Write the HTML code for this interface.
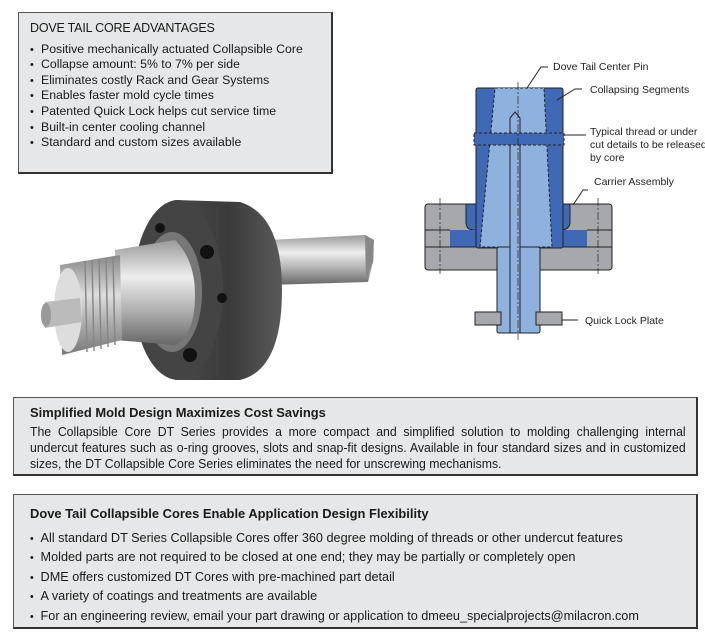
<!DOCTYPE html>
<html><head><meta charset="utf-8"><style>
body{margin:0;width:705px;height:633px;background:#fff;position:relative;overflow:hidden;font-family:"Liberation Sans",sans-serif;color:#1a1a1a}
.box{position:absolute;background:#e6e7e8;border:1px solid #555;border-right:2px solid #333;border-bottom:2px solid #333;box-sizing:border-box}
#b1{left:18px;top:12px;width:315px;height:162px;padding:8px 0 0 11px;font-size:12.3px;line-height:14.6px}
#b1 .h{font-size:12.5px;margin-bottom:6px;letter-spacing:-0.2px}
ul{margin:0;padding:0;list-style:none}
#b1 li:before{content:"•";display:inline-block;width:11px;font-size:11px}
#b3 li:before{content:"•";display:inline-block;width:11px;font-size:11px;line-height:10px}
#b2{left:13px;top:397px;width:685px;height:79px;padding:7px 0 0 16px;font-size:13.2px;line-height:16px}
#b3{left:13px;top:494px;width:685px;height:135px;padding:11px 0 0 16px;font-size:13.2px}
.sc{transform:scaleX(0.98);transform-origin:left;white-space:nowrap}
.body{width:705px;transform:scaleX(0.93);transform-origin:left;white-space:nowrap}
.j{text-align:justify;text-align-last:justify}
.l3{transform:scaleX(0.96);transform-origin:left;white-space:nowrap;width:700px}
#b3 li{line-height:19.4px;height:19.4px;overflow:visible}
.t{font-weight:bold;font-size:13.2px;line-height:16px}
svg text{font-family:"Liberation Sans",sans-serif;font-size:10.5px;fill:#222}
</style></head><body>
<div class="box" id="b1"><div class="h">DOVE TAIL CORE ADVANTAGES</div><ul>
<li>Positive mechanically actuated Collapsible Core</li>
<li>Collapse amount: 5% to 7% per side</li>
<li>Eliminates costly Rack and Gear Systems</li>
<li>Enables faster mold cycle times</li>
<li>Patented Quick Lock helps cut service time</li>
<li>Built-in center cooling channel</li>
<li>Standard and custom sizes available</li></ul></div>

<svg style="position:absolute;left:0;top:0" width="705" height="390">
<defs>
<linearGradient id="sh" x1="0" y1="0" x2="0" y2="1"><stop offset="0" stop-color="#999"/><stop offset=".35" stop-color="#eee"/><stop offset=".7" stop-color="#aaa"/><stop offset="1" stop-color="#666"/></linearGradient>
<linearGradient id="dk" x1="0" y1="0" x2="1" y2="0"><stop offset="0" stop-color="#4a4a4a"/><stop offset=".5" stop-color="#3a3a3a"/><stop offset="1" stop-color="#5a5a5a"/></linearGradient>
<linearGradient id="th" x1="0" y1="0" x2="0" y2="1"><stop offset="0" stop-color="#888"/><stop offset=".4" stop-color="#ddd"/><stop offset="1" stop-color="#777"/></linearGradient>
</defs>
<path d="M268 240 L365 235 Q375 240 374 258 L368 282 L268 285 Z" fill="url(#sh)"/>
<path d="M365 235 L374 240 L373 262 L366 280 Z" fill="#888"/>
<path d="M175 200 L240 202 Q282 215 282 290 Q282 370 240 380 L175 380 Z" fill="url(#dk)"/>
<ellipse cx="178" cy="290" rx="45" ry="90" fill="#444"/>
<ellipse cx="172" cy="292" rx="30" ry="60" fill="#777"/>
<path d="M115 250 L175 240 Q195 260 195 295 Q195 335 175 345 L115 340 Z" fill="url(#sh)"/>
<path d="M60 265 L120 255 L122 340 L62 355 Z" fill="url(#th)"/>
<g stroke="#888" stroke-width="1.5">
<line x1="85" y1="261" x2="87" y2="352"/><line x1="92" y1="260" x2="94" y2="351"/><line x1="99" y1="259" x2="101" y2="349"/><line x1="106" y1="258" x2="108" y2="347"/><line x1="113" y1="257" x2="115" y2="345"/></g>
<ellipse cx="68" cy="310" rx="14" ry="42" fill="#ddd"/>
<path d="M45 302 L80 298 L82 322 L45 328 Z" fill="#bbb"/>
<ellipse cx="46" cy="315" rx="5" ry="12" fill="#999"/>
<circle cx="160" cy="228" r="5" fill="#111"/><circle cx="207" cy="252" r="7" fill="#111"/><circle cx="222" cy="298" r="5" fill="#111"/><circle cx="190" cy="355" r="7" fill="#111"/>
<g stroke="#222" stroke-width="1">
<rect x="425" y="204" width="187" height="66" rx="3" fill="#a6a8ab"/>
<path d="M466 204 V222 Q466 230 474 230 H560 Q570 230 570 222 V204 Z" fill="#3f68b5"/>
<rect x="450" y="230" width="137" height="17" fill="#3f68b5" stroke="none"/>
<line x1="425" y1="247" x2="612" y2="247"/><line x1="425" y1="230" x2="450" y2="230"/><line x1="587" y1="230" x2="612" y2="230"/>
<rect x="476" y="88" width="87" height="160" rx="2" fill="#3f68b5"/>
<path d="M495 88 L544 88 L552 247 L480 247 Z" fill="#8fb1de" stroke-dasharray="3 2"/>
<rect x="497" y="247" width="43" height="86" rx="2" fill="#8fb1de"/>
<path d="M510 118 L515 112 L520 118 L520 333 L510 333 Z" fill="#8fb1de"/>
<rect x="474" y="133" width="90" height="12" fill="#3f68b5" stroke-dasharray="3 2"/>
<rect x="475" y="312" width="26" height="13" fill="#a6a8ab"/><rect x="536" y="312" width="26" height="13" fill="#a6a8ab"/>
<line x1="518" y1="82" x2="518" y2="340" stroke-dasharray="8 2 2 2" stroke-width=".7"/>
<line x1="440" y1="198" x2="440" y2="274" stroke-dasharray="8 2 2 2" stroke-width=".7"/>
<line x1="598" y1="198" x2="598" y2="274" stroke-dasharray="8 2 2 2" stroke-width=".7"/>
<path d="M527 88 L541 67 H548" fill="none"/><path d="M557 100 L575 89 H582" fill="none"/><path d="M564 135 H586" fill="none"/><path d="M573 205 L583 190 H588" fill="none"/><path d="M562 320 H578" fill="none"/>
</g>
<text x="553" y="70">Dove Tail Center Pin</text>
<text x="590" y="93">Collapsing Segments</text>
<text x="590" y="135">Typical thread or under</text>
<text x="590" y="148">cut details to be released</text>
<text x="590" y="161">by core</text>
<text x="594" y="185">Carrier Assembly</text>
<text x="585" y="324">Quick Lock Plate</text>
</svg>

<div class="box" id="b2"><div class="sc t">Simplified Mold Design Maximizes Cost Savings</div>
<div class="body" style="margin-top:3px"><div class="j">The Collapsible Core DT Series provides a more compact and simplified solution to molding challenging internal</div>
<div class="j">undercut features such as o-ring grooves, slots and snap-fit designs. Available in four standard sizes and in customized</div>
<div>sizes, the DT Collapsible Core Series eliminates the need for unscrewing mechanisms.</div></div></div>

<div class="box" id="b3"><div class="t sc" style="margin-bottom:6px">Dove Tail Collapsible Cores Enable Application Design Flexibility</div><ul class="l3">
<li>All standard DT Series Collapsible Cores offer 360 degree molding of threads or other undercut features</li>
<li>Molded parts are not required to be closed at one end; they may be partially or completely open</li>
<li>DME offers customized DT Cores with pre-machined part detail</li>
<li>A variety of coatings and treatments are available</li>
<li>For an engineering review, email your part drawing or application to dmeeu_specialprojects@milacron.com</li></ul></div>
</body></html>
